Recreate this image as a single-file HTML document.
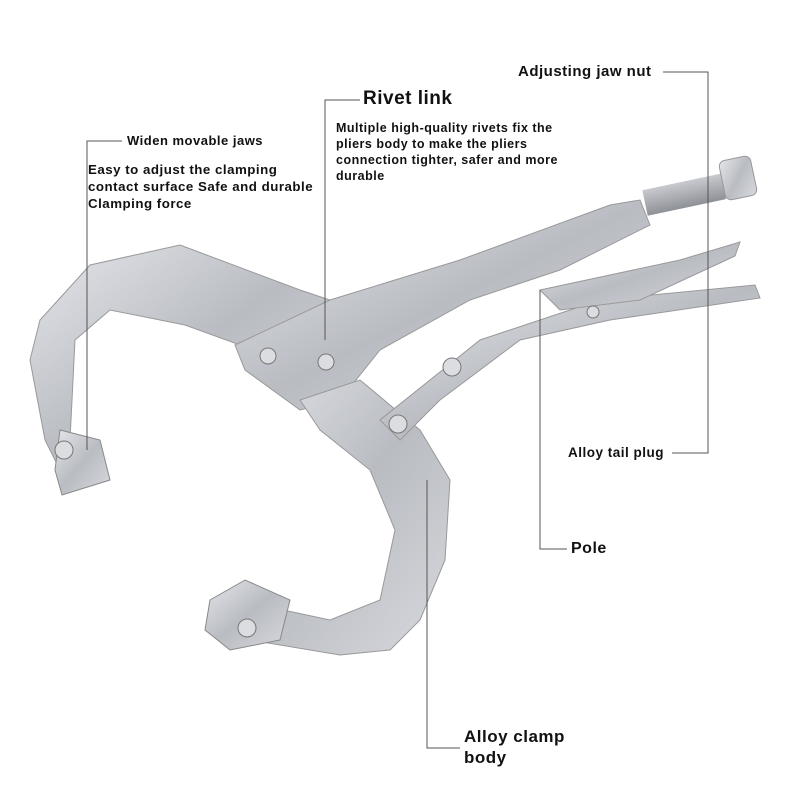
<!DOCTYPE html>
<html><head><meta charset="utf-8"><style>
body{margin:0;background:#fff;}
#c{position:relative;width:800px;height:800px;overflow:hidden;font-family:"Liberation Sans",sans-serif;font-weight:bold;color:#111;}
.t{position:absolute;white-space:nowrap;letter-spacing:0.5px;}
svg{position:absolute;left:0;top:0;}
</style></head><body><div id="c">
<svg width="800" height="800">
<defs>
<linearGradient id="m" x1="0" y1="0" x2="1" y2="1">
<stop offset="0" stop-color="#e4e6ea"/><stop offset="0.5" stop-color="#b9bcc2"/><stop offset="1" stop-color="#d7d9dd"/></linearGradient>
<linearGradient id="d" x1="0" y1="0" x2="0" y2="1">
<stop offset="0" stop-color="#c8cacf"/><stop offset="1" stop-color="#8e9197"/></linearGradient>
</defs>
<path d="M180,245 L300,290 L330,300 L335,320 L240,345 L185,325 L110,310 L75,340 L70,440 L90,460 L60,470 L45,440 L30,360 L40,320 L90,265 Z" fill="url(#m)" stroke="#999" stroke-width="1"/>
<path d="M60,430 L100,440 L110,480 L62,495 L55,470 Z" fill="url(#m)" stroke="#888"/>
<path d="M235,345 L330,300 L460,260 L610,205 L640,200 L650,225 L560,270 L470,300 L380,350 L340,400 L300,410 L245,370 Z" fill="url(#m)" stroke="#999"/>
<rect x="645" y="190" width="80" height="26" fill="url(#d)" transform="rotate(-12 645 203)"/>
<rect x="722" y="158" width="32" height="40" rx="6" fill="url(#m)" stroke="#999" transform="rotate(-12 738 178)"/>
<path d="M300,400 L360,380 L420,430 L450,480 L445,560 L420,620 L390,650 L340,655 L250,640 L220,610 L260,605 L330,620 L380,600 L395,530 L370,470 L320,430 Z" fill="url(#m)" stroke="#999"/>
<path d="M210,600 L245,580 L290,600 L280,640 L230,650 L205,630 Z" fill="url(#m)" stroke="#888"/>
<path d="M380,420 L480,340 L600,300 L755,285 L760,298 L610,320 L520,340 L440,400 L400,440 Z" fill="url(#m)" stroke="#999"/>
<path d="M540,290 L680,260 L740,242 L735,256 L640,300 L560,310 Z" fill="url(#m)" stroke="#999"/>
<g fill="#dcdde0" stroke="#777"><circle cx="268" cy="356" r="8"/><circle cx="326" cy="362" r="8"/><circle cx="452" cy="367" r="9"/><circle cx="398" cy="424" r="9"/><circle cx="64" cy="450" r="9"/><circle cx="247" cy="628" r="9"/><circle cx="593" cy="312" r="6"/></g>
<g stroke="#555" stroke-width="1" fill="none">
<polyline points="663,72 708,72 708,453 672,453"/>
<polyline points="360,100 325,100 325,340"/>
<polyline points="122,141 87,141 87,450"/>
<polyline points="540,290 540,549 567,549"/>
<polyline points="427,480 427,748 460,748"/>
</g>
</svg>
<div class="t" style="left:518px;top:63px;font-size:15px">Adjusting jaw nut</div>
<div class="t" style="left:363px;top:88px;font-size:19px">Rivet link</div>
<div class="t" style="left:336px;top:120px;font-size:12.5px;line-height:16px">Multiple high-quality rivets fix the<br>pliers body to make the pliers<br>connection tighter, safer and more<br>durable</div>
<div class="t" style="left:127px;top:133px;font-size:13px">Widen movable jaws</div>
<div class="t" style="left:88px;top:161px;font-size:13.3px;line-height:17px">Easy to adjust the clamping<br>contact surface Safe and durable<br>Clamping force</div>
<div class="t" style="left:568px;top:445px;font-size:13.5px">Alloy tail plug</div>
<div class="t" style="left:571px;top:540px;font-size:16px">Pole</div>
<div class="t" style="left:464px;top:726px;font-size:17px;line-height:21px">Alloy clamp<br>body</div>
</div></body></html>
